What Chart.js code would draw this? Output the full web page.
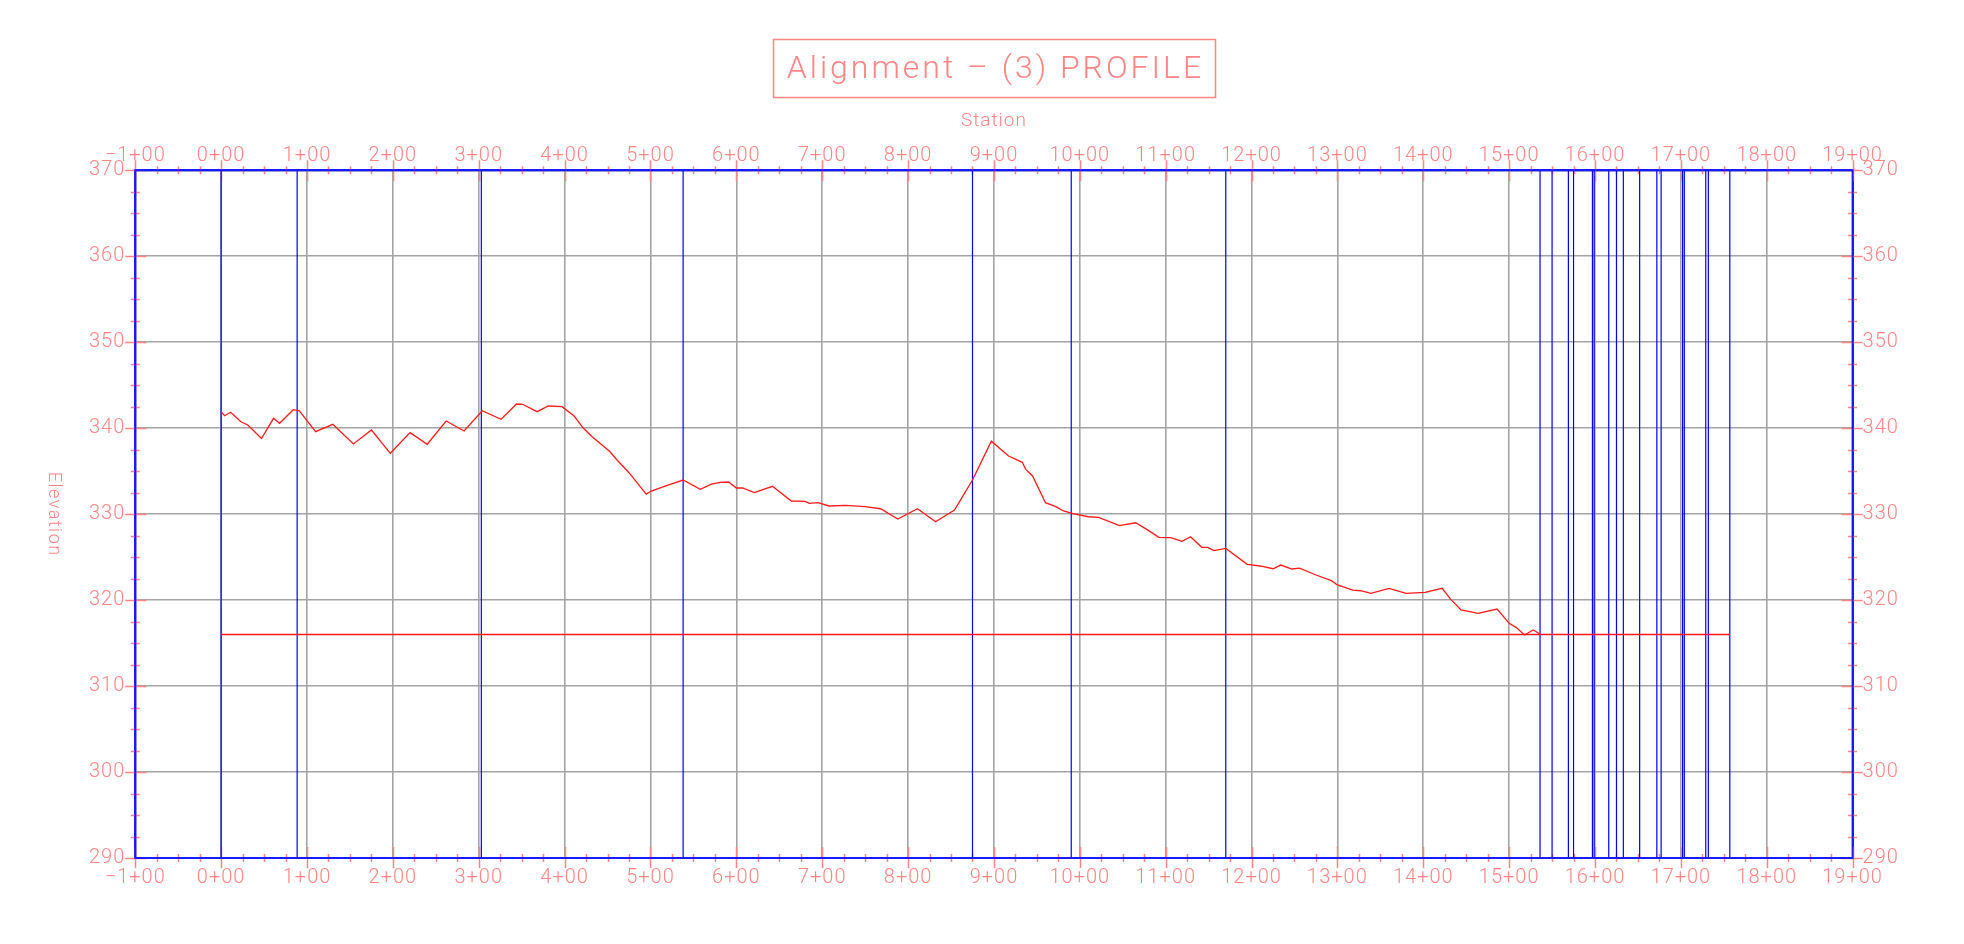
<!DOCTYPE html>
<html>
<head>
<meta charset="utf-8">
<script src="https://cdn.jsdelivr.net/npm/chart.js@4.4.1/dist/chart.umd.min.js"></script>
<style>
  html, body { margin: 0; padding: 0; background: #ffffff; }
  #wrap { width: 1964px; height: 944px; }
</style>
</head>
<body>
<div id="wrap"><canvas id="c" width="1964" height="944"></canvas></div>
<script>
// ---- data ----
const titleText = 'Alignment – (3) PROFILE';
const xAxisTitle = 'Station';
const yAxisTitle = 'Elevation';

// existing ground profile (station in ft, elevation)
const groundStations = [0,4,11,23,31,47,61,68,84,91,110,130,154,175,197,220,240,262,283,304,326,344,351,368,381,397,411,422,432,452,461,475,495,501,517,538,558,571,581,591,600,607,621,642,664,680,685,695,708,727,750,768,788,811,832,854,861,875,897,917,933,937,945,960,972,981,992,1010,1022,1046,1065,1078,1092,1106,1119,1129,1142,1149,1156,1170,1195,1210,1225,1234,1247,1256,1275,1293,1300,1318,1327,1339,1360,1380,1402,1422,1432,1444,1464,1486,1500,1508,1518,1528,1536];
const groundElev = [341.9,341.45,341.85,340.75,340.37,338.8,341.15,340.57,342.15,342.03,339.6,340.45,338.16,339.79,337.08,339.48,338.13,340.84,339.67,342.03,341.03,342.81,342.78,341.92,342.58,342.5,341.42,339.99,339.01,337.34,336.3,334.82,332.34,332.69,333.27,333.97,332.89,333.5,333.7,333.74,333.04,333.04,332.5,333.24,331.53,331.49,331.26,331.33,330.95,331.03,330.87,330.63,329.44,330.63,329.12,330.48,331.64,333.97,338.49,336.76,336.03,335.21,334.44,331.33,330.87,330.37,330.05,329.7,329.63,328.66,329.0,328.23,327.3,327.26,326.84,327.38,326.14,326.14,325.75,326.02,324.16,323.97,323.65,324.08,323.62,323.72,322.92,322.26,321.76,321.17,321.09,320.79,321.37,320.79,320.91,321.37,320.09,318.85,318.46,318.96,317.3,316.83,315.94,316.52,316.06];

// design grade line
const gradeStations = [0, 1536, 1757];
const gradeElev = [316, 316, 316];

// vertical (blue) station lines
const blueStations = [0,88.5,303,538,875,990,1170,1536,1550,1569,1575,1597,1599,1616,1625,1633,1652,1672,1677,1702,1704,1729,1732,1757];

// axis ranges / ticks
const stationMin = -100, stationMax = 1900, stationStep = 100, stationMinorStep = 25;
const elevMin = 290, elevMax = 370, elevStep = 10, elevMinorStep = 2.5;

// ---- styles ----
const PINK = '#ff8585';
const BLUE = '#1a1aff';
const GRAY = '#a4a4a4';
const FONT = 'Roboto, "DejaVu Sans", sans-serif';
const TOP_PAD = 100;

function stationLabel(v) {
  const st = Math.round(v / 100);
  return (st < 0 ? '\u2212' : '') + Math.abs(st) + '+00';
}

const groundData = groundStations.map((s, i) => ({x: s, y: groundElev[i]}));
const gradeData = gradeStations.map((s, i) => ({x: s, y: gradeElev[i]}));
const blueData = [];
blueStations.forEach(s => {
  blueData.push({x: s, y: elevMin});
  blueData.push({x: s, y: elevMax});
  blueData.push({x: s, y: null});
});

const cadTicks = {
  id: 'cadTicks',
  beforeDraw(chart) {
    chart.ctx.letterSpacing = '1px';
  },
  beforeDatasetsDraw(chart) {
    const {ctx, chartArea: a, scales} = chart;
    const xs = scales.x, ys = scales.y;
    ctx.save();
    ctx.strokeStyle = PINK;
    ctx.lineWidth = 1.5;
    ctx.beginPath();
    for (let v = stationMin; v <= stationMax + 0.001; v += stationMinorStep) {
      const px = Math.round(xs.getPixelForValue(v)) + 0.5;
      const major = Math.abs(v / stationStep - Math.round(v / stationStep)) < 1e-6;
      const up = major ? 10 : 4, down = major ? 11 : 4;
      ctx.moveTo(px, a.top - up); ctx.lineTo(px, a.top + down);
      ctx.moveTo(px, a.bottom - down); ctx.lineTo(px, a.bottom + up);
    }
    for (let v = elevMin; v <= elevMax + 0.001; v += elevMinorStep) {
      const py = Math.round(ys.getPixelForValue(v)) + 0.5;
      const major = Math.abs(v / elevStep - Math.round(v / elevStep)) < 1e-6;
      const out = major ? 10 : 4.5, inn = major ? 11 : 4.5;
      ctx.moveTo(a.left - out, py); ctx.lineTo(a.left + inn, py);
      ctx.moveTo(a.right - inn, py); ctx.lineTo(a.right + out, py);
    }
    ctx.stroke();
    ctx.restore();
  },
  afterDraw(chart) {
    const {ctx, chartArea: a} = chart;
    ctx.save();
    ctx.strokeStyle = BLUE;
    ctx.lineWidth = 2;
    ctx.strokeRect(a.left, a.top, a.right - a.left, a.bottom - a.top);
    ctx.restore();

    // rotated y-axis title (reads top to bottom)
    ctx.save();
    ctx.fillStyle = PINK;
    ctx.font = '300 18px ' + FONT;
    ctx.letterSpacing = '1.5px';
    ctx.textAlign = 'center';
    ctx.textBaseline = 'middle';
    ctx.translate(53, (a.top + a.bottom) / 2);
    ctx.rotate(Math.PI / 2);
    ctx.fillText(yAxisTitle, 0, 0);
    ctx.restore();

    // chart title with its box
    ctx.save();
    ctx.fillStyle = PINK;
    ctx.strokeStyle = PINK;
    ctx.font = '300 32px ' + FONT;
    ctx.letterSpacing = '3px';
    ctx.textAlign = 'center';
    ctx.textBaseline = 'alphabetic';
    const cx = (a.left + a.right) / 2;
    ctx.fillText(titleText, cx + 1.5, 78);
    ctx.lineWidth = 1.5;
    ctx.strokeRect(Math.round(cx - 221) + 0.5, 39.5, 442, 58);
    ctx.restore();
  }
};

const tickFont = {family: FONT, size: 20, weight: '300'};

new Chart(document.getElementById('c'), {
  type: 'line',
  data: {
    datasets: [
      {label: 'ground', data: groundData, borderColor: '#ff1a1a', borderWidth: 1.3, pointRadius: 0, tension: 0, order: 1},
      {label: 'grade', data: gradeData, borderColor: '#ff1a1a', borderWidth: 1.6, pointRadius: 0, tension: 0, order: 2},
      {label: 'stations', data: blueData, borderColor: '#0000ff', borderWidth: 1.2, pointRadius: 0, spanGaps: false, order: 3}
    ]
  },
  options: {
    responsive: false,
    animation: false,
    devicePixelRatio: 1,
    layout: {padding: {top: TOP_PAD, left: 0, right: 0, bottom: 0}},
    plugins: {
      legend: {display: false},
      tooltip: {enabled: false},
      title: {display: false}
    },
    scales: {
      x: {
        type: 'linear', position: 'bottom', min: stationMin, max: stationMax,
        ticks: {stepSize: stationStep, callback: stationLabel, color: PINK, font: tickFont, padding: 8, autoSkip: false, maxRotation: 0, minRotation: 0},
        grid: {color: GRAY, lineWidth: 1.6, drawTicks: false},
        border: {display: true, color: BLUE, width: 2},
        afterFit(s) { s.height = 86; }
      },
      x2: {
        type: 'linear', position: 'top', min: stationMin, max: stationMax,
        ticks: {stepSize: stationStep, callback: stationLabel, color: PINK, font: tickFont, padding: 2, autoSkip: false, maxRotation: 0, minRotation: 0},
        grid: {drawOnChartArea: false, drawTicks: false},
        border: {display: true, color: BLUE, width: 2},
        title: {display: true, text: xAxisTitle, color: PINK, font: {family: FONT, size: 19, weight: '300', lineHeight: 1.2}, padding: {top: 10, bottom: 0}},
        afterFit(s) { s.height = 170.3 - TOP_PAD; }
      },
      y: {
        type: 'linear', position: 'left', min: elevMin, max: elevMax,
        ticks: {stepSize: elevStep, color: PINK, font: tickFont, padding: 10},
        grid: {color: GRAY, lineWidth: 1.6, drawTicks: false},
        border: {display: true, color: BLUE, width: 2},
        afterFit(s) { s.width = 135.3; }
      },
      y2: {
        type: 'linear', position: 'right', min: elevMin, max: elevMax,
        ticks: {stepSize: elevStep, color: PINK, font: tickFont, padding: 10},
        grid: {drawOnChartArea: false, drawTicks: false},
        border: {display: true, color: BLUE, width: 2},
        afterFit(s) { s.width = 111.4; }
      }
    }
  },
  plugins: [cadTicks]
});
</script>
</body>
</html>
